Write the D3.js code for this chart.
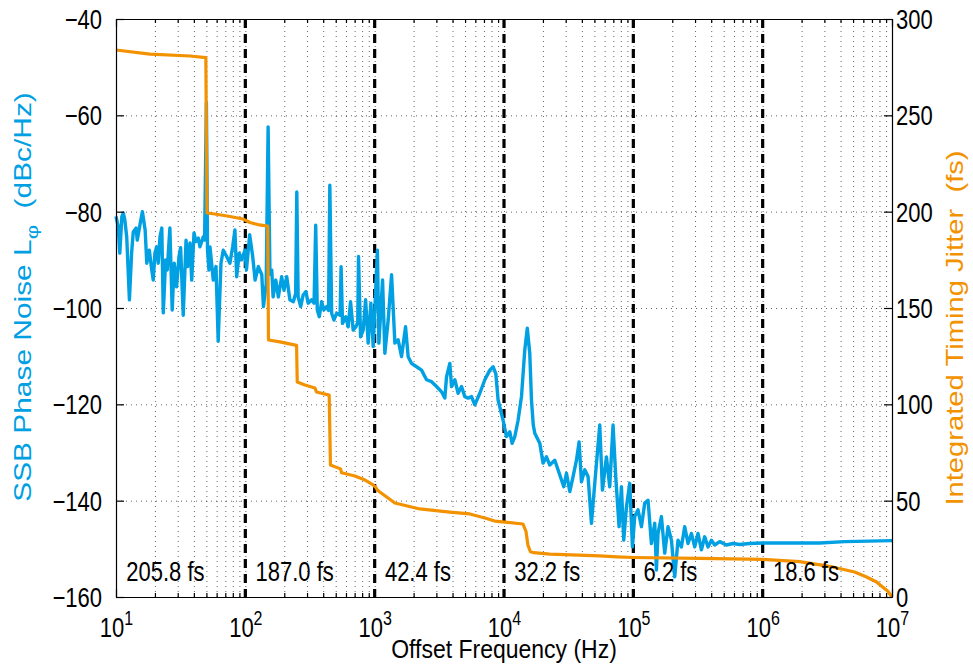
<!DOCTYPE html>
<html>
<head>
<meta charset="utf-8">
<script src="https://cdn.jsdelivr.net/npm/d3@7"></script>
<style>
  body { margin: 0; background: #fff; }
  svg { font-family: "Liberation Sans", Arial, Helvetica, sans-serif; }
  .grid line { stroke: #000; stroke-opacity: 0.6; stroke-dasharray: 1,4; }
  .grid path { display: none; }
  .axis path, .axis line { stroke: #000; stroke-width: 1.2; }
  .axis text { font-size: 22px; fill: #000; }
</style>
</head>
<body>
<svg id="chart" width="973" height="664"></svg>
<script>
// values
const decades = [10, 1e2, 1e3, 1e4, 1e5, 1e6, 1e7];
const markerFreqs = [1e2, 1e3, 1e4, 1e5, 1e6];
const jitterLabels = ["205.8 fs", "187.0 fs", "42.4 fs", "32.2 fs", "6.2 fs", "18.6 fs"];
const leftTicks = [-160, -140, -120, -100, -80, -60, -40];
const rightTicks = [0, 50, 100, 150, 200, 250, 300];

const noiseFreq = [10, 10.4, 10.7, 11.1, 11.4, 11.7, 12.1, 12.7, 13.2, 13.6, 14.3, 14.6, 15.3, 16.0, 16.8, 17.3, 18.1, 18.9, 19.4,
  20.0, 20.6, 21.2, 21.9, 22.6, 23.2, 24.2, 24.9, 26.1, 27.2, 28.2, 29.4, 30.7, 31.6, 33.1, 34.8, 35.8, 37.3, 38.5, 40.1,
  41.5, 43.3, 44.6, 47.3, 48.4, 50, 51, 52.3, 53.3, 56.5, 59.3, 61.7, 64.8, 67.5, 71.7, 76.0, 79.8, 83.1, 85.7, 89.7, 93.6,
  99.3, 102, 108, 114, 119, 126, 134, 138, 145, 150, 155, 160, 164, 172, 180, 191, 199, 209, 221, 235, 245, 250, 256, 268,
  280, 294, 306, 325, 340, 350, 360, 373, 389, 405, 425, 440, 450, 465, 484, 508, 540, 550, 564, 598, 624, 651, 682, 716,
  740, 750, 778, 815, 851, 891, 935, 974, 1050, 1078, 1151, 1199, 1272, 1351, 1433, 1519, 1614, 1733, 1815, 1928, 2108,
  2304, 2518, 2753, 3009, 3289, 3487, 3594, 3812, 3929, 4167, 4418, 4694, 4978, 5279, 5609, 5947, 6501, 7107, 7770, 8240,
  8643, 9004, 9840, 10450, 11090, 11550, 12120, 12850, 13650, 14480, 15140, 15820, 16310, 16840, 17300, 18910, 20050,
  21300, 22590, 24700, 26190, 27830, 28990, 30410, 32260, 34200, 36340, 38060, 39710, 42110, 44660, 47450, 50320, 55000,
  57700, 61960, 65700, 69700, 73100, 77550, 80900, 84300, 88450, 93800, 98400, 102500, 108700, 115500, 122500, 129900,
  138000, 146400, 150800, 155200, 164900, 174800, 185500, 197000, 208900, 221500, 235300, 249500, 264700, 281200, 298200,
  316200, 336000, 356300, 377900, 401500, 425700, 465400, 524200, 589500, 664300, 793300, 1e6, 2.76e6, 4.3e6, 1e7];
const noiseDb = [-81.0, -83.1, -88.6, -81.0, -80.3, -81.7, -85.2, -98.3, -88.6, -84.2, -83.4, -85.9, -82.8, -80.0, -83.8, -90.7, -88.0, -92.1, -94.2,
  -88.6, -87.3, -90.7, -85.2, -83.4, -101.0, -90.0, -92.1, -83.4, -100.4, -90.7, -95.6, -89.3, -87.5, -101.5, -85.9, -91.4, -86.5, -94.2, -84.4,
  -86.2, -85.5, -87.3, -85.2, -85.9, -57.4, -88.0, -92.1, -87.3, -94.2, -91.4, -106.9, -90.7, -88.0, -89.3, -90.7, -87.3, -83.8, -93.5, -88.6, -90.0,
  -88.0, -92.1, -84.8, -89.3, -94.2, -91.4, -93.1, -99.7, -95.0, -62.4, -93.0, -92.1, -97.7, -94.2, -97.7, -93.5, -96.3, -93.5, -98.3, -98.7, -97.0, -75.9, -97.7, -99.7,
  -97.3, -96.6, -99.0, -98.3, -99.0, -82.8, -100.4, -101.8, -98.7, -100.4, -99.7, -100.5, -74.5, -101.1, -102.5, -101.1, -101.5, -91.4, -103.2, -101.8, -103.9, -98.7, -104.6, -103.9,
  -103.0, -89.3, -106.0, -104.6, -98.3, -107.3, -99.0, -108.0, -88.0, -107.3, -94.2, -109.4, -102.5, -93.1, -107.3, -106.6, -110.1, -103.9, -110.1, -111.5, -112.2,
  -112.9, -114.9, -115.3, -116.3, -117.4, -118.7, -114.3, -111.5, -116.3, -114.9, -117.7, -116.3, -118.4, -118.7, -118.4, -120.1, -117.7, -114.9, -112.9, -112.2,
  -113.6, -119.1, -123.3, -126.7, -125.7, -128.1, -126.7, -123.3, -118.4, -108.7, -104.2, -109.4, -119.1, -124.3, -126.0, -128.1, -132.2,
  -130.9, -132.6, -131.6, -133.6, -135.7, -137.1, -134.3, -138.1, -135.0, -131.6, -127.8, -136.1, -133.6, -135.0, -144.7, -136.4, -124.3,
  -137.8, -130.9, -137.1, -124.3, -135.0, -145.4, -137.1, -148.2, -141.3, -136.4, -149.6, -143.3, -141.9, -145.4, -140.5, -139.9,
  -148.9, -144.7, -154.4, -146.8, -143.3, -150.9, -145.4, -148.2, -155.8, -148.2, -149.6, -145.4, -148.9, -146.8, -149.6,
  -146.8, -150.2, -147.5, -149.6, -148.2, -149.2, -148.5, -149.2, -148.9, -149.1, -148.9, -148.8, -148.8, -148.5, -148.3];

const jitterFreq = [10, 18.3, 37.3, 49.5, 50.5, 58.2, 76, 95.8, 108.5, 125, 149, 151, 185, 249, 252, 289, 345, 355, 445, 455,
  545, 555, 703, 843, 951, 1015, 1050, 1096, 1433, 2234, 3812, 5441, 7107, 8492, 10140, 14000, 14800, 15300, 16000, 17000,
  22590, 55000, 74400, 1e5, 325800, 1e6, 1.93e6, 3.475e6, 5.14e6, 6.36e6, 7.6e6, 8.46e6, 9.25e6, 1e7];
const jitterFs = [283.9, 281.8, 280.8, 280.0, 199.3, 198.8, 197.5, 196.2, 194.4, 193.3, 192.5, 133.4, 132.4, 130.6, 111.6, 110.0, 108.5, 106.4, 104.8, 68.5,
  66.5, 64.5, 62.8, 60.7, 58.6, 57.1, 55.5, 54.5, 48.8, 45.7, 44.1, 43.1, 41.0, 39.4, 38.9, 37.9, 34.0, 27.0, 23.5, 23.0,
  22.3, 21.3, 20.8, 20.5, 20.0, 19.5, 18.4, 15.6, 13.0, 10.4, 7.8, 5.2, 3.1, 0];

const blue = "#00A0E3", orange = "#F39200";
const stretch = 1.25; // the lettering of the original is taller than it is wide
const margin = {top: 19, right: 81, bottom: 67, left: 116};
const W = 973, H = 664;
const width = W - margin.left - margin.right, height = H - margin.top - margin.bottom;

const svg = d3.select("#chart");
svg.append("rect").attr("width", W).attr("height", H).attr("fill", "#fff");
const g = svg.append("g").attr("transform", `translate(${margin.left},${margin.top})`);

const x = d3.scaleLog().domain([10, 1e7]).range([0, width]);
const yL = d3.scaleLinear().domain([-160, -40]).range([height, 0]);
const yR = d3.scaleLinear().domain([0, 300]).range([height, 0]);

const minorTicks = [];
decades.slice(0, -1).forEach(d => { for (let k = 2; k <= 9; k++) minorTicks.push(d * k); });
const allXTicks = decades.concat(minorTicks);

// dotted grid
g.append("g").attr("class", "grid").attr("transform", `translate(0,${height})`)
  .call(d3.axisBottom(x).tickValues(allXTicks).tickSize(-height).tickFormat(""));
g.append("g").attr("class", "grid")
  .call(d3.axisLeft(yL).tickValues(leftTicks).tickSize(-width).tickFormat(""));

// per-decade markers
g.selectAll(".marker").data(markerFreqs).enter().append("line")
  .attr("x1", d => x(d)).attr("x2", d => x(d))
  .attr("y1", 0).attr("y2", height)
  .attr("stroke", "#000").attr("stroke-width", 3.2).attr("stroke-dasharray", "9,6");

// curves
const noise = noiseFreq.map((f, i) => [f, noiseDb[i]]);
const jitter = jitterFreq.map((f, i) => [f, jitterFs[i]]);

g.append("path").datum(noise)
  .attr("fill", "none").attr("stroke", blue).attr("stroke-width", 3.4).attr("stroke-linejoin", "round")
  .attr("d", d3.line().x(d => x(d[0])).y(d => yL(d[1])));
g.append("path").datum(jitter)
  .attr("fill", "none").attr("stroke", orange).attr("stroke-width", 3.2).attr("stroke-linejoin", "round")
  .attr("d", d3.line().x(d => x(d[0])).y(d => yR(d[1])));

// decade jitter labels
g.selectAll(".jl").data(jitterLabels).enter().append("text")
  .attr("transform", (d, i) => `translate(${x(decades[i] * 1.2)},${yL(-156.6)}) scale(1,${stretch})`)
  .attr("font-size", "22px")
  .text(d => d);

// axes
const xb = g.append("g").attr("class", "axis").attr("transform", `translate(0,${height})`)
  .call(d3.axisBottom(x).tickValues(decades).tickSizeInner(-8).tickSizeOuter(0).tickFormat(""));
xb.selectAll(".tick text").each(function(d) {
  const t = d3.select(this).attr("y", null).attr("dy", null)
    .attr("transform", `translate(0,40) scale(1,${stretch})`);
  t.append("tspan").text("10");
  t.append("tspan").attr("dy", "-0.6em").attr("font-size", "16px").text(Math.round(Math.log10(d)));
});
g.append("g").attr("class", "axis").attr("transform", `translate(0,${height})`)
  .call(d3.axisBottom(x).tickValues(minorTicks).tickSizeInner(-4).tickSizeOuter(0).tickFormat(""));
g.append("g").attr("class", "axis")
  .call(d3.axisTop(x).tickValues(decades).tickSizeInner(-8).tickSizeOuter(0).tickFormat(""));
g.append("g").attr("class", "axis")
  .call(d3.axisTop(x).tickValues(minorTicks).tickSizeInner(-4).tickSizeOuter(0).tickFormat(""));

g.append("g").attr("class", "axis")
  .call(d3.axisLeft(yL).tickValues(leftTicks).tickSizeInner(-8).tickSizeOuter(0).tickPadding(14)
    .tickFormat(d => String(d).replace("-", "\u2212")))
  .selectAll(".tick text").attr("transform", `scale(1,${stretch})`).attr("dy", "0.34em");
g.append("g").attr("class", "axis").attr("transform", `translate(${width},0)`)
  .call(d3.axisRight(yR).tickValues(rightTicks).tickSizeInner(-8).tickSizeOuter(0).tickPadding(4))
  .selectAll(".tick text").attr("transform", `scale(1,${stretch})`).attr("dy", "0.34em");

// axis titles
svg.append("text").attr("transform", `translate(${margin.left + width / 2},658) scale(1,1.12)`)
  .attr("text-anchor", "middle").attr("font-size", "23px").text("Offset Frequency (Hz)");

const lt = svg.append("text").attr("transform", "translate(31,297) rotate(-90) scale(1.3,1)")
  .attr("text-anchor", "middle").attr("font-size", "23px").attr("fill", blue)
  .style("white-space", "pre");
lt.append("tspan").text("SSB Phase Noise L");
lt.append("tspan").attr("dy", 7).attr("font-size", "17px").text("\u03c6");
lt.append("tspan").attr("dy", -7).text("  (dBc/Hz)");

svg.append("text").attr("transform", "translate(963,328) rotate(-90) scale(1.27,1)")
  .attr("text-anchor", "middle").attr("font-size", "23px").attr("fill", orange)
  .style("white-space", "pre")
  .text("Integrated Timing Jitter  (fs)");
</script>
</body>
</html>
